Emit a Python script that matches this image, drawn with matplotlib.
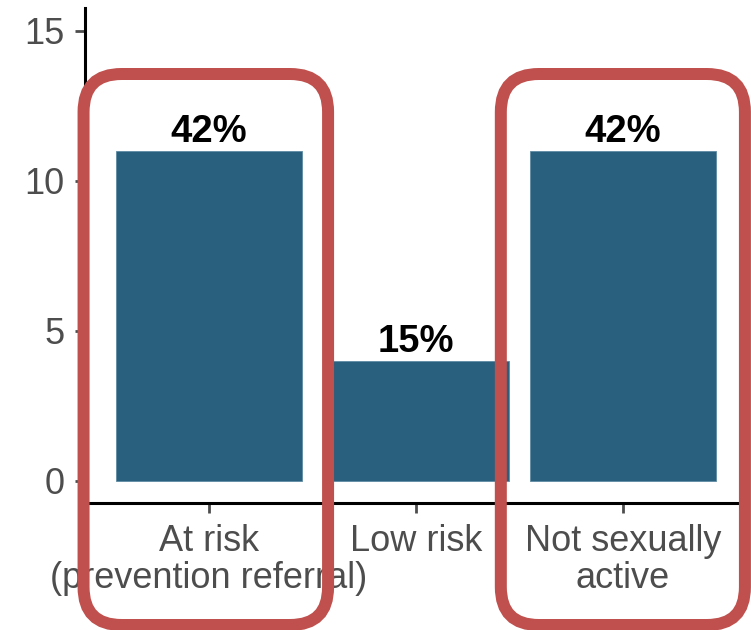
import matplotlib
matplotlib.use('Agg')
import matplotlib.pyplot as plt
from matplotlib.patches import FancyBboxPatch
import numpy as np

# Data
categories = ['At risk\n(prevention referral)', 'Low risk', 'Not sexually\nactive']
counts = [11, 4, 11]
pct_labels = ['42%', '15%', '42%']
# red boxes: category index, reach to the left / right in bar units
highlight = [(0, 0.607, 0.575), (2, 0.59, 0.59)]

bar_color = '#28607D'
box_color = '#C0504D'
tick_grey = '#4D4D4D'

plt.rcParams['font.family'] = ['Liberation Sans', 'DejaVu Sans']

DPI = 100
fig = plt.figure(figsize=(7.51, 6.30), dpi=DPI)
ax = fig.add_axes([85 / 751, 127 / 630, 662 / 751, 495 / 630])

x = np.arange(1, len(counts) + 1)
ax.bar(x, counts, width=0.9, color=bar_color, edgecolor='#5E8AA3', linewidth=0.6, zorder=2)
for xi, c, lab in zip(x, counts, pct_labels):
    ax.text(xi, c + 0.27, lab, ha='center', va='baseline', fontsize=27.5,
            fontweight='bold', color='black')

ax.set_xlim(0.4, 3.6)
ax.set_ylim(-0.75, 15.75)
ax.set_yticks([0, 5, 10, 15])
ax.set_xticks(x)
ax.set_xticklabels(categories, linespacing=1.08)

for side in ['top', 'right']:
    ax.spines[side].set_visible(False)
for side in ['left', 'bottom']:
    ax.spines[side].set_linewidth(2.2)
    ax.spines[side].set_color('black')

ax.tick_params(axis='both', labelsize=26, labelcolor=tick_grey, color=tick_grey,
               length=7, width=2.0)
ax.tick_params(axis='y', pad=8)
ax.tick_params(axis='x', pad=8)

# red rounded boxes around highlighted categories (drawn in pixel space)
fig.canvas.draw()
y_top = 630 - 74
y_bot = 630 - 625
for i, left, right in highlight:
    xc = x[i]
    x0 = ax.transData.transform((xc - left, 0))[0]
    x1 = ax.transData.transform((xc + right, 0))[0]
    patch = FancyBboxPatch((x0, y_bot), x1 - x0, y_top - y_bot,
                           boxstyle='round,pad=0,rounding_size=38',
                           transform=None, fill=False, edgecolor=box_color,
                           linewidth=12 * 72 / DPI, zorder=10, clip_on=False)
    fig.patches.append(patch)

fig.savefig('out.png', dpi=DPI)
